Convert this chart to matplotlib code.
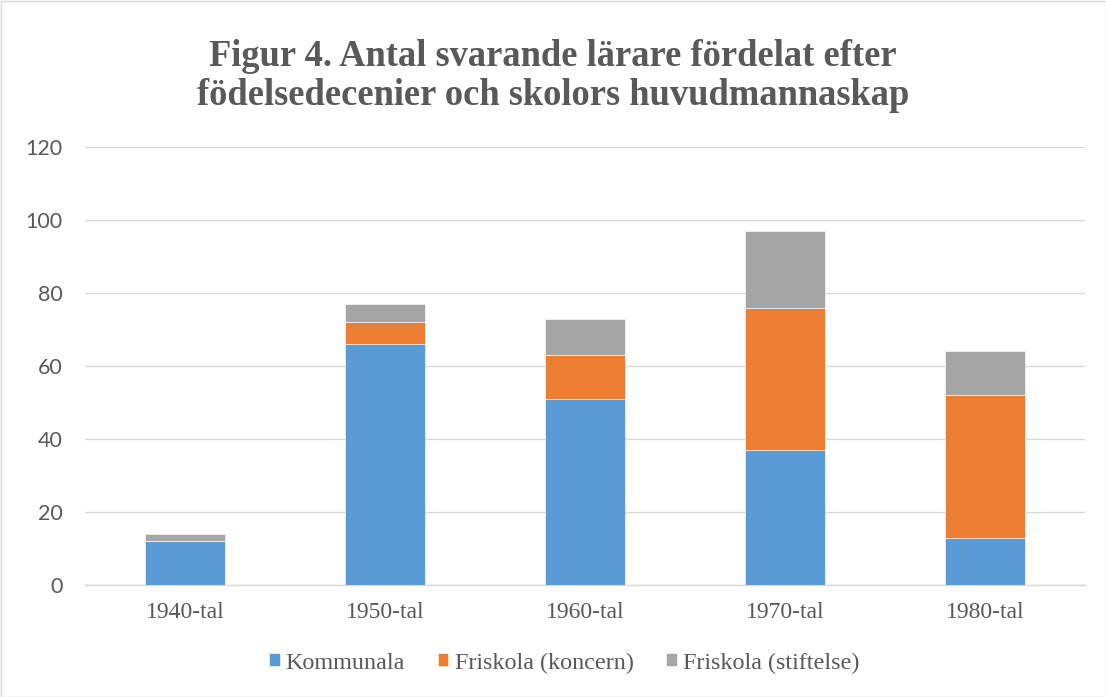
import matplotlib
matplotlib.use("Agg")
import matplotlib.pyplot as plt
from matplotlib.patches import Rectangle
import numpy as np

categories = ["1940-tal", "1950-tal", "1960-tal", "1970-tal", "1980-tal"]
kommunala = [12, 66, 51, 37, 13]
friskola_koncern = [0, 6, 12, 39, 39]
friskola_stiftelse = [2, 5, 10, 21, 12]
series_names = ["Kommunala", "Friskola (koncern)", "Friskola (stiftelse)"]
colors = ["#5B9BD5", "#ED7D31", "#A5A5A5"]
yticks = [0, 20, 40, 60, 80, 100, 120]
title = "Figur 4. Antal svarande lärare fördelat efter\nfödelsedecenier och skolors huvudmannaskap"

plt.rcParams['font.family'] = ['Liberation Serif', 'DejaVu Serif']
W, H = 1106, 697
fig = plt.figure(figsize=(W/100, H/100), dpi=100)
fig.patches.append(Rectangle((0.5/W, 0.5/H), 1-1/W, 1-1/H, transform=fig.transFigure,
                             fill=False, edgecolor="#d9d9d9", linewidth=1))
ax = fig.add_axes([85/W, (H-585)/H, 1000/W, (585-147)/H])

x = np.arange(len(categories))
bottom = np.zeros(len(categories))
for vals, name, c in zip([kommunala, friskola_koncern, friskola_stiftelse], series_names, colors):
    ax.bar(x, vals, width=0.4, bottom=bottom, color=c, label=name, zorder=3,
           edgecolor="white", linewidth=0.4)
    bottom += np.array(vals)

ax.set_xlim(-0.5, len(categories) - 0.5)
ax.set_ylim(0, 120)
ax.set_yticks(yticks)
ax.set_xticks(x)
ax.set_xticklabels(categories)
ax.grid(axis="y", color="#d9d9d9", linewidth=1, zorder=0)
for s in ["top", "right", "left"]:
    ax.spines[s].set_visible(False)
ax.spines["bottom"].set_color("#d9d9d9")
ax.spines["bottom"].set_linewidth(1)
ax.tick_params(axis="both", length=0, labelcolor="#595959")
ax.tick_params(axis="x", labelsize=17, pad=12)
ax.tick_params(axis="y", labelsize=15.5, pad=16)
for lab in ax.get_yticklabels():
    lab.set_family(["Lato", "DejaVu Sans"])

fig.text(0.5, 1 - 76/H, title, ha="center", va="center", fontsize=26.3, fontweight="bold",
         color="#595959", linespacing=1.15)

leg = fig.legend(loc="center", bbox_to_anchor=(564/W, 1 - 663/H), ncol=3, frameon=False,
                 fontsize=17.4, handlelength=0.45, handleheight=0.45, handletextpad=0.25,
                 columnspacing=1.35)
for t in leg.get_texts():
    t.set_color("#595959")

fig.savefig("out.png", dpi=100)
